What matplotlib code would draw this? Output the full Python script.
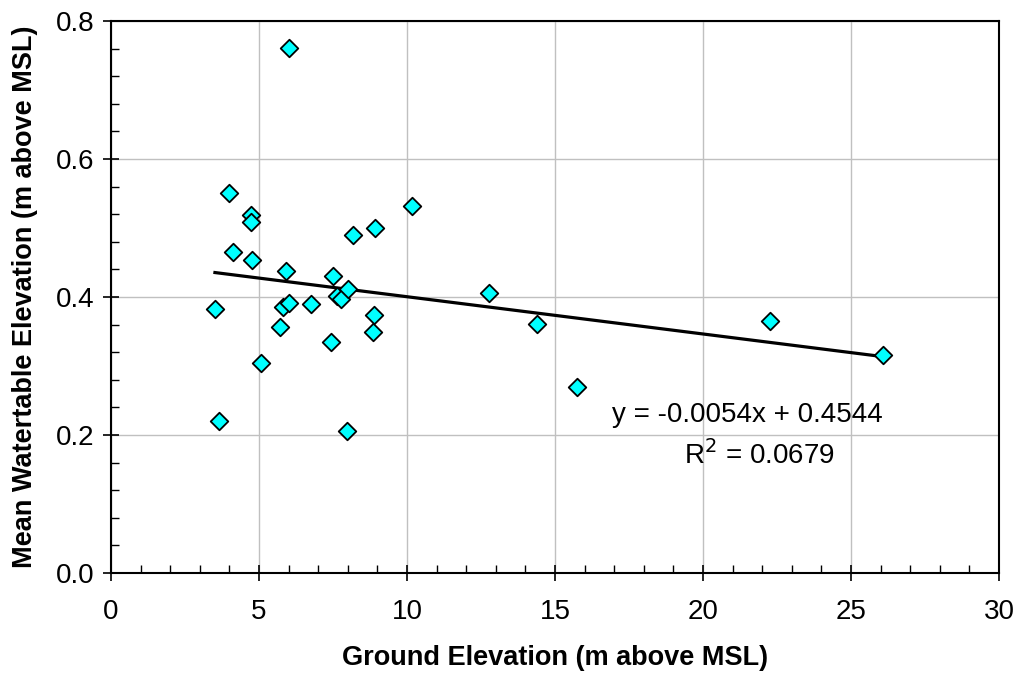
import numpy as np
import matplotlib as mpl
import matplotlib.pyplot as plt
from matplotlib.ticker import MultipleLocator

##################################################
# fonts
mpl.rcParams['font.family'] = ['Liberation Sans', 'DejaVu Sans']
##################################################
# data
ground_elev = [3.51, 3.65, 3.98, 4.11, 4.72, 4.72, 4.77, 5.07, 5.72, 5.80,
               5.90, 6.01, 6.02, 6.75, 7.43, 7.51, 7.62, 7.78, 7.96, 8.00,
               8.19, 8.86, 8.90, 8.92, 10.16, 12.77, 14.39, 15.74, 22.26, 26.07]
water_elev = [0.383, 0.220, 0.550, 0.465, 0.519, 0.508, 0.453, 0.305, 0.356, 0.385,
              0.438, 0.761, 0.392, 0.390, 0.335, 0.430, 0.401, 0.397, 0.206, 0.412,
              0.490, 0.350, 0.374, 0.500, 0.532, 0.406, 0.361, 0.270, 0.365, 0.316]
slope = -0.0054
intercept = 0.4544
r_squared = 0.0679
##################################################
fig = plt.figure(figsize=(10.15, 6.75), dpi=100)
ax = fig.add_axes([0.1094, 0.1511, 0.8749, 0.8178])

ax.scatter(ground_elev, water_elev, marker='D', s=80, facecolor='#00FFFF',
           edgecolor='black', linewidth=1.3, zorder=3)

# trendline over the data range
xs = np.array([min(ground_elev), max(ground_elev)])
ax.plot(xs, slope * xs + intercept, color='black', lw=2.3, zorder=2)

ax.text(21.5, 0.229, 'y = -0.0054x + 0.4544', ha='center', va='center', fontsize=20)
ax.text(21.9, 0.171, 'R$^2$ = %.4f' % r_squared, ha='center', va='center', fontsize=20)

ax.set_xlim(0, 30)
ax.set_ylim(0, 0.8)
ax.xaxis.set_major_locator(MultipleLocator(5))
ax.xaxis.set_minor_locator(MultipleLocator(1))
ax.yaxis.set_major_locator(MultipleLocator(0.2))
ax.yaxis.set_minor_locator(MultipleLocator(0.04))
ax.yaxis.set_major_formatter(mpl.ticker.FormatStrFormatter('%.1f'))

ax.grid(True, which='major', color='#c0c0c0', lw=1.0, zorder=0)
ax.set_axisbelow(True)

ax.tick_params(which='major', direction='inout', length=12, width=1.2, labelsize=20)
ax.tick_params(which='minor', direction='in', length=6, width=1.0)
ax.tick_params(axis='x', which='major', pad=13)
ax.tick_params(axis='y', which='major', pad=6)

for s in ax.spines.values():
    s.set_linewidth(1.5)

ax.set_xlabel('Ground Elevation (m above MSL)', fontsize=19.5, fontweight='bold', labelpad=14)
ax.set_ylabel('Mean Watertable Elevation (m above MSL)', fontsize=19.5, fontweight='bold', labelpad=13)

fig.savefig('out.png', dpi=100)
